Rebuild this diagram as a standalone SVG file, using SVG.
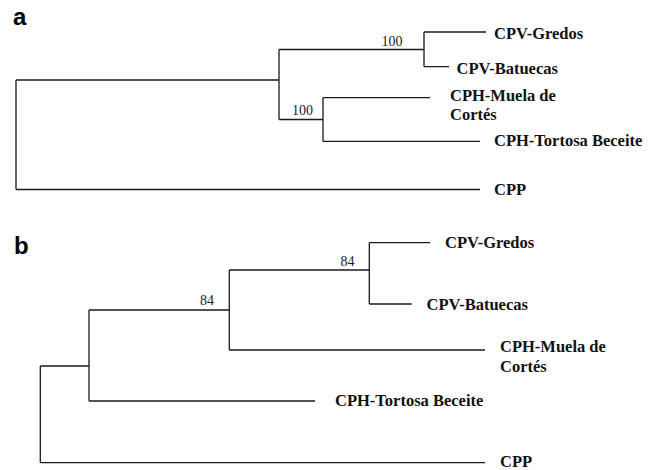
<svg xmlns="http://www.w3.org/2000/svg" width="653" height="470" viewBox="0 0 653 470">
<style>
.br{fill:none;stroke:#1a1a1a;stroke-width:1.3}
.lab{font-family:"Liberation Serif","Times New Roman",serif;font-weight:bold;font-size:16.5px;fill:#111}
.bs{font-family:"Liberation Serif","Times New Roman",serif;font-size:14px;fill:#222}
.pl{font-family:"Liberation Sans",Arial,sans-serif;font-weight:bold;font-size:24px;fill:#000}
</style>
<rect width="653" height="470" fill="#fff"/>
<text class="pl" x="13" y="24.5">a</text>
<text class="pl" x="14" y="254">b</text>
<g id="connectors">
<path class="br" d="M16,80V189.5M16,80H279M279,49.5V119.5M279,49.5H424M424,32V66.7M424,32H486M424,66.7H449M279,119.5H323M323,97.7V141.3M323,97.7H430M323,141.3H480M16,189.5H480"/>
<path class="br" d="M40.3,366V462.7M40.3,366H89M89,310V401M89,310H229.3M229.3,270V350M229.3,270H369.3M369.3,242.7V304M369.3,242.7H430M369.3,304H411.7M229.3,350H485M89,401H315M40.3,462.7H485"/>
</g>
<g id="a-support">
<text class="bs" x="381.5" y="45.5">100</text>
<text class="bs" x="292" y="114.5">100</text>
</g>
<g id="a-CPV-Gredos"><text class="lab" x="494" y="38.5">CPV-Gredos</text></g>
<g id="a-CPV-Batuecas"><text class="lab" x="456.5" y="73.5">CPV-Batuecas</text></g>
<g id="a-CPH-Muela"><text class="lab" x="450" y="101">CPH-Muela de<tspan x="450" y="120">Cortés</tspan></text></g>
<g id="a-CPH-Tortosa"><text class="lab" x="494" y="145.5">CPH-Tortosa Beceite</text></g>
<g id="a-CPP"><text class="lab" x="494" y="195">CPP</text></g>
<g id="b-support">
<text class="bs" x="340.5" y="265.5">84</text>
<text class="bs" x="200" y="305">84</text>
</g>
<g id="b-CPV-Gredos"><text class="lab" x="445" y="247.5">CPV-Gredos</text></g>
<g id="b-CPV-Batuecas"><text class="lab" x="426.5" y="309.5">CPV-Batuecas</text></g>
<g id="b-CPH-Muela"><text class="lab" x="500" y="352">CPH-Muela de<tspan x="500" y="371.5">Cortés</tspan></text></g>
<g id="b-CPH-Tortosa"><text class="lab" x="335" y="406">CPH-Tortosa Beceite</text></g>
<g id="b-CPP"><text class="lab" x="500" y="467">CPP</text></g>
</svg>
